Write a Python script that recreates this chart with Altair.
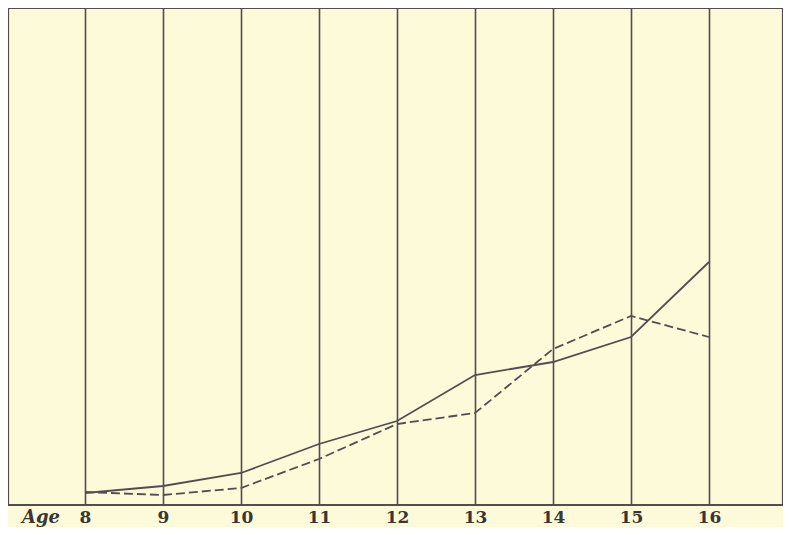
import altair as alt
import pandas as pd

ages = [8, 9, 10, 11, 12, 13, 14, 15, 16]
solid_vals = [14, 21, 34, 63, 86, 132, 145, 170, 245]
dashed_vals = [15, 12, 19, 48, 83, 94, 158, 191, 170]

df = pd.DataFrame({
    "age": ages * 2,
    "value": solid_vals + dashed_vals,
    "series": ["solid"] * len(ages) + ["dashed"] * len(ages),
})

ink = "#524d4e"
bg = "#fcfad9"

x = alt.X("age:Q",
          scale=alt.Scale(domain=[7.0128, 16.949], nice=False, zero=False),
          axis=alt.Axis(values=ages, grid=True, gridColor=ink, gridWidth=1.6, gridOpacity=1,
                        domain=False, ticks=False, labelPadding=4, labelFontSize=17,
                        labelFont="DejaVu Serif", labelFontWeight="bold", labelColor="#3a3636",
                        title=None, labelFlush=False))
y = alt.Y("value:Q", scale=alt.Scale(domain=[2, 499], nice=False), axis=None)

solid = alt.Chart(df).transform_filter(alt.datum.series == "solid").mark_line(
    color=ink, strokeWidth=1.8).encode(x=x, y=y)
dashed = alt.Chart(df).transform_filter(alt.datum.series == "dashed").mark_line(
    color=ink, strokeWidth=1.8, strokeDash=[9, 4]).encode(x=x, y=y)

age_label = alt.Chart(pd.DataFrame({"t": ["Age"]})).mark_text(
    font="DejaVu Serif", fontSize=18, fontWeight="bold", fontStyle="italic",
    color="#3a3636", baseline="top", align="center").encode(
    text="t:N", x=alt.value(33), y=alt.value(501))

chart = alt.layer(solid, dashed, age_label).properties(
    width=775, height=497,
    background=bg,
    padding={"left": 0, "top": 0, "right": 0, "bottom": 22},
    autosize=alt.AutoSizeParams(type="none"),
).configure_view(stroke=ink, strokeWidth=2.2)

chart.save("out.html", embed_options={"renderer": "svg", "actions": False})
